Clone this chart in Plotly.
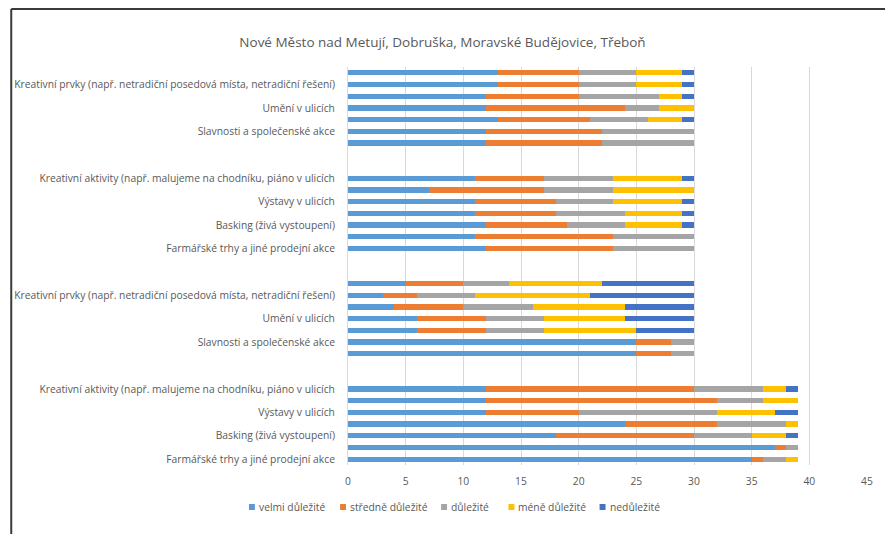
import plotly.graph_objects as go

title = "Nové Město nad Metují, Dobruška, Moravské Budějovice, Třeboň"
series_names = ["velmi důležité", "středně důležité", "důležité", "méně důležité", "nedůležité"]
colors = ["#5B9BD5", "#ED7D31", "#A5A5A5", "#FFC000", "#4472C4"]

# Category slots from bottom (1) to top (34); empty slots are gaps between groups
positions = [1, 2, 3, 4, 5, 6, 7,
             10, 11, 12, 13, 14, 15, 16,
             19, 20, 21, 22, 23, 24, 25,
             28, 29, 30, 31, 32, 33, 34]

# values per series, bottom bar to top bar
velmi = [35, 37, 18, 24, 12, 12, 12,
         25, 25, 6, 6, 4, 3, 5,
         12, 11, 12, 11, 11, 7, 11,
         12, 12, 13, 12, 12, 13, 13]
stredne = [1, 1, 12, 8, 8, 20, 18,
           3, 3, 6, 6, 6, 3, 5,
           11, 12, 7, 7, 7, 10, 6,
           10, 10, 8, 12, 8, 7, 7]
dulezite = [2, 1, 5, 6, 12, 4, 6,
            2, 2, 5, 5, 6, 5, 4,
            7, 7, 5, 6, 5, 6, 6,
            8, 8, 5, 3, 7, 5, 5]
mene = [1, 0, 3, 1, 5, 3, 2,
        0, 0, 8, 7, 8, 10, 8,
        0, 0, 5, 5, 6, 7, 6,
        0, 0, 3, 3, 2, 4, 4]
nedulezite = [0, 0, 1, 0, 2, 0, 1,
              0, 0, 5, 6, 6, 9, 8,
              0, 0, 1, 1, 1, 0, 1,
              0, 0, 1, 0, 1, 1, 1]

tick_positions = [1, 3, 5, 7, 11, 13, 15, 19, 21, 23, 25, 29, 31, 33]
tick_labels = [
    "Farmářské trhy a jiné prodejní akce",
    "Basking (živá vystoupení)",
    "Výstavy v ulicích",
    "Kreativní aktivity (např. malujeme na chodníku, piáno v ulicích",
    "Slavnosti a společenské akce",
    "Umění v ulicích",
    "Kreativní prvky (např. netradiční posedová místa, netradiční řešení)",
    "Farmářské trhy a jiné prodejní akce",
    "Basking (živá vystoupení)",
    "Výstavy v ulicích",
    "Kreativní aktivity (např. malujeme na chodníku, piáno v ulicích",
    "Slavnosti a společenské akce",
    "Umění v ulicích",
    "Kreativní prvky (např. netradiční posedová místa, netradiční řešení)",
]

font_family = "Open Sans, Noto Sans, sans-serif"
text_color = "#595959"

# plot-area geometry in pixels (for converting layout decorations to paper coords)
W, H = 885, 534
L, R, T, B = 348, 13, 67, 69
PW, PH = W - L - R, H - T - B


def px_x(x):
    return (x - L) / PW


def px_y(y):
    return (H - B - y) / PH


fig = go.Figure()
for name, vals, col in zip(series_names, [velmi, stredne, dulezite, mene, nedulezite], colors):
    fig.add_trace(go.Bar(
        y=positions, x=vals, name=name, orientation="h",
        marker=dict(color=col, line=dict(width=0)),
        width=0.45, showlegend=False,
    ))

fig.update_layout(
    barmode="stack",
    width=W, height=H,
    margin=dict(l=L, r=R, t=T, b=B),
    paper_bgcolor="white", plot_bgcolor="white",
    font=dict(family=font_family, size=10.3, color=text_color),
    title=dict(text=title, x=0.5, xref="container", xanchor="center", y=0.921, yanchor="middle",
               font=dict(family=font_family, size=13.5, color=text_color)),
    xaxis=dict(range=[0, 45], dtick=5, tick0=0, showgrid=True, gridcolor="#D9D9D9", gridwidth=1,
               zeroline=False, showline=False, ticks="", ticklabelstandoff=9,
               tickfont=dict(size=10.3, color=text_color), fixedrange=True),
    yaxis=dict(range=[0.5, 34.5], tickmode="array", tickvals=tick_positions, ticktext=tick_labels,
               showgrid=False, zeroline=False, showline=True, linecolor="#D9D9D9", ticks="",
               ticklabelstandoff=10, tickfont=dict(size=10.3, color=text_color), fixedrange=True),
    showlegend=False,
)

# custom legend (compact Excel-style squares)
legend_x = [248, 340, 442, 510, 602]
legend_y = 507
for name, col, lx in zip(series_names, colors, legend_x):
    fig.add_shape(type="rect", xref="paper", yref="paper",
                  x0=px_x(lx), x1=px_x(lx + 6), y0=px_y(legend_y + 3), y1=px_y(legend_y - 3),
                  fillcolor=col, line=dict(width=0))
    fig.add_annotation(text=name, xref="paper", yref="paper", x=px_x(lx + 8), y=px_y(legend_y),
                       xanchor="left", yanchor="middle", showarrow=False,
                       font=dict(size=10.3, color=text_color, family=font_family))

# outer chart frame (top and left edges visible in the reference)
fig.add_shape(type="line", xref="paper", yref="paper", x0=px_x(8), x1=px_x(W + 10),
              y0=px_y(9), y1=px_y(9), line=dict(color="#3A3A3A", width=2))
fig.add_shape(type="line", xref="paper", yref="paper", x0=px_x(8), x1=px_x(8),
              y0=px_y(9), y1=px_y(H + 10), line=dict(color="#3A3A3A", width=2))

fig.write_html("out.html", config={"displayModeBar": False})

# remove default page margin so the figure sits at the window's top-left corner
with open("out.html", "r", encoding="utf-8") as f:
    html = f.read()
html = html.replace("<head>", "<head><style>html,body{margin:0;padding:0;overflow:hidden;}</style>", 1)
with open("out.html", "w", encoding="utf-8") as f:
    f.write(html)
